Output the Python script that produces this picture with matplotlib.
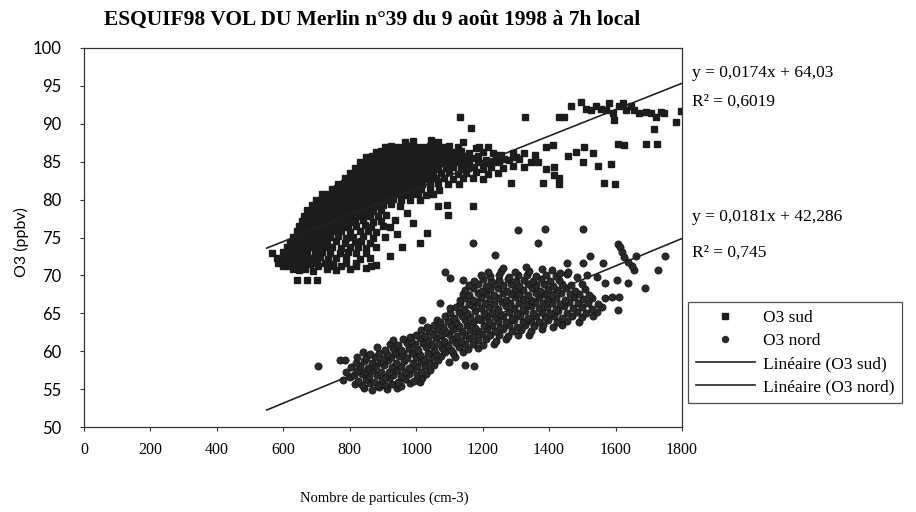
import matplotlib
matplotlib.use("Agg")
import matplotlib.pyplot as plt
from matplotlib.lines import Line2D

# O3 sud (squares), row by row
sud_x = [
    965, 990, 1045, 1065, 1140,
    905, 925, 945, 965, 985, 1000, 1020, 1040, 1060, 1080, 1100, 1125, 1190, 1215, 1391, 1411,
    880, 895, 915, 935, 955, 975, 995, 1015, 1035, 1055, 1075, 1095, 1115, 1135, 1160, 1180, 1200, 1230, 1255, 1290, 1481,
    850, 868, 886, 905, 923, 941, 960, 978, 996, 1015, 1033, 1051, 1070, 1088, 1106, 1125, 1143, 1165, 1185, 1210, 1240, 1265, 1300, 1325, 1358, 1456,
    830, 848, 866, 884, 902, 920, 938, 956, 974, 992, 1010, 1028, 1046, 1064, 1082, 1100, 1120, 1140, 1160, 1185, 1205, 1230, 1250, 1280, 1310, 1345, 1367, 1501, 1586,
    815, 833, 851, 869, 887, 905, 923, 941, 959, 977, 995, 1013, 1031, 1049, 1067, 1090, 1110, 1135, 1155, 1175, 1200, 1225, 1260, 1290, 1325, 1391, 1416, 1546,
    800, 818, 836, 854, 872, 890, 908, 926, 944, 962, 980, 998, 1016, 1034, 1052, 1075, 1100, 1125, 1150, 1180, 1215, 1245, 1416,
    785, 803, 821, 839, 857, 875, 893, 911, 929, 947, 965, 983, 1001, 1019, 1037, 1060, 1085, 1110, 1140, 1170, 1200, 1431,
    765, 783, 801, 819, 837, 855, 873, 891, 909, 927, 945, 963, 981, 999, 1017, 1040, 1065, 1095, 1130, 1286, 1381, 1431, 1566, 1599,
    745, 763, 781, 799, 817, 835, 853, 871, 889, 907, 925, 943, 961, 979, 997, 1015, 1040, 1070,
    715, 733, 751, 769, 787, 805, 823, 841, 859, 877, 895, 913, 931, 949, 967, 985, 1005, 1030, 1052,
    697, 715, 733, 751, 769, 787, 805, 823, 841, 859, 877, 895, 913, 931, 955, 980, 1010,
    685, 703, 721, 739, 757, 775, 793, 811, 829, 847, 865, 883, 901, 925, 950, 1092, 1171,
    672, 690, 708, 726, 744, 762, 780, 798, 816, 834, 852, 870, 895, 971, 1066,
    662, 680, 698, 716, 734, 752, 770, 788, 806, 824, 842, 862, 885, 910, 1096,
    655, 673, 691, 709, 727, 745, 763, 781, 799, 817, 840, 870, 895, 935,
    648, 666, 684, 702, 720, 738, 756, 774, 795, 820, 845, 865, 900, 921, 991,
    642, 660, 678, 696, 714, 732, 752, 775, 800, 830, 855, 880, 941, 1031,
    630, 648, 666, 684, 702, 720, 740, 765, 790, 810, 840, 870, 905,
    620, 638, 656, 674, 692, 710, 730, 760, 785, 815, 835, 860, 1011,
    610, 628, 646, 664, 682, 705, 725, 745, 775, 800, 825, 850, 880, 956,
    565, 600, 618, 636, 654, 672, 695, 715, 740, 770, 795, 820, 850, 920,
    580, 598, 616, 634, 652, 672, 690, 710, 735, 760, 790, 830, 860,
    585, 603, 621, 639, 657, 680, 700, 725, 750, 790, 820, 880,
    600, 614, 660, 705, 745, 775, 820, 865,
    630, 648, 666, 690, 730, 760, 800, 850,
    640, 670, 700,
    1131, 1166, 1326, 1431, 1446, 1466, 1496, 1511, 1526, 1541, 1556, 1571, 1581, 1591, 1596,
    1611, 1621, 1631, 1646, 1656, 1671, 1691, 1706, 1721, 1736, 1746, 1781, 1796, 1716,
    1606, 1626, 1691, 1726, 1506, 1531,
]
sud_y = [
    87.6, 87.7, 87.8, 87.6, 87.6,
    87.0, 87.1, 86.9, 87.0, 87.1, 86.9, 87.0, 87.1, 86.9, 87.0, 87.1, 86.9, 87.0, 86.9, 87.0, 87.2,
    86.3, 86.4, 86.2, 86.3, 86.4, 86.2, 86.3, 86.4, 86.2, 86.3, 86.4, 86.2, 86.3, 86.4, 86.1, 86.8, 86.3, 86.2, 85.9, 86.1, 86.3,
    85.6, 85.7, 85.5, 85.6, 85.7, 85.5, 85.6, 85.7, 85.5, 85.6, 85.7, 85.5, 85.6, 85.7, 85.5, 85.6, 85.7, 85.5, 85.7, 85.2, 85.9, 85.4, 85.6, 86.1, 85.9, 85.7,
    84.9, 85.0, 84.8, 84.9, 85.0, 84.8, 84.9, 85.0, 84.8, 84.9, 85.0, 84.8, 84.9, 85.0, 84.8, 84.9, 85.0, 84.8, 84.9, 85.0, 84.8, 84.9, 85.0, 85.2, 85.4, 84.9, 84.9, 85.0, 84.7,
    84.2, 84.3, 84.1, 84.2, 84.3, 84.1, 84.2, 84.3, 84.1, 84.2, 84.3, 84.1, 84.2, 84.3, 84.1, 84.2, 84.3, 84.1, 84.2, 84.3, 84.1, 84.3, 84.2, 84.4, 84.3, 84.1, 84.3, 84.4,
    83.5, 83.6, 83.4, 83.5, 83.6, 83.4, 83.5, 83.6, 83.4, 83.5, 83.6, 83.4, 83.5, 83.6, 83.4, 83.5, 83.6, 83.4, 83.5, 83.6, 83.4, 83.5, 83.2,
    82.8, 82.9, 82.7, 82.8, 82.9, 82.7, 82.8, 82.9, 82.7, 82.8, 82.9, 82.7, 82.8, 82.9, 82.7, 82.8, 82.9, 82.7, 82.8, 82.9, 82.7, 82.9,
    82.1, 82.2, 82.0, 82.1, 82.2, 82.0, 82.1, 82.2, 82.0, 82.1, 82.2, 82.0, 82.1, 82.2, 82.0, 82.1, 82.2, 82.0, 82.1, 82.2, 82.2, 82.1, 82.2, 82.1,
    81.4, 81.5, 81.3, 81.4, 81.5, 81.3, 81.4, 81.5, 81.3, 81.4, 81.5, 81.3, 81.4, 81.5, 81.3, 81.4, 81.5, 81.3,
    80.7, 80.8, 80.6, 80.7, 80.8, 80.6, 80.7, 80.8, 80.6, 80.7, 80.8, 80.6, 80.7, 80.8, 80.6, 80.7, 80.8, 80.6, 80.8,
    80.0, 80.1, 79.9, 80.0, 80.1, 79.9, 80.0, 80.1, 79.9, 80.0, 80.1, 79.9, 80.0, 80.1, 79.9, 80.0, 79.9,
    79.3, 79.4, 79.2, 79.3, 79.4, 79.2, 79.3, 79.4, 79.2, 79.3, 79.4, 79.2, 79.3, 79.4, 79.2, 79.3, 79.1,
    78.6, 78.7, 78.5, 78.6, 78.7, 78.5, 78.6, 78.7, 78.5, 78.6, 78.7, 78.5, 78.6, 78.2, 79.1,
    77.9, 78.0, 77.8, 77.9, 78.0, 77.8, 77.9, 78.0, 77.8, 77.9, 78.0, 77.8, 77.9, 78.0, 78.0,
    77.2, 77.3, 77.1, 77.2, 77.3, 77.1, 77.2, 77.3, 77.1, 77.2, 77.3, 77.1, 77.2, 77.3,
    76.5, 76.6, 76.4, 76.5, 76.6, 76.4, 76.5, 76.6, 76.4, 76.5, 76.6, 76.4, 76.5, 76.4, 76.9,
    75.8, 75.9, 75.7, 75.8, 75.9, 75.7, 75.8, 75.9, 75.7, 75.8, 75.9, 75.7, 75.5, 75.6,
    75.1, 75.2, 75.0, 75.1, 75.2, 75.0, 75.1, 75.2, 75.0, 75.1, 75.2, 75.0, 75.1,
    74.4, 74.5, 74.3, 74.4, 74.5, 74.3, 74.4, 74.5, 74.3, 74.4, 74.5, 74.3, 74.3,
    73.7, 73.8, 73.6, 73.7, 73.8, 73.6, 73.7, 73.8, 73.6, 73.7, 73.8, 73.6, 73.7, 73.8,
    73.0, 73.1, 72.9, 73.0, 73.1, 72.9, 73.0, 73.1, 72.9, 73.0, 73.1, 72.9, 73.0, 72.6,
    72.3, 72.4, 72.2, 72.3, 72.4, 72.2, 72.3, 72.4, 72.2, 72.3, 72.4, 72.2, 72.3,
    71.6, 71.7, 71.5, 71.6, 71.7, 71.5, 71.6, 71.7, 71.5, 71.6, 71.7, 71.4,
    71.2, 71.3, 71.2, 71.3, 71.2, 71.3, 71.2, 71.3,
    70.9, 70.7, 70.8, 70.6, 70.8, 70.7, 70.9, 71.0,
    69.4, 69.4, 69.4,
    90.9, 89.4, 90.9, 90.9, 90.9, 92.3, 92.9, 92.0, 91.8, 92.3, 92.0, 91.8, 92.7, 91.4, 90.5,
    92.3, 92.7, 91.8, 92.3, 91.8, 91.4, 91.6, 91.4, 90.9, 91.6, 91.4, 90.3, 91.7, 89.3,
    87.4, 87.2, 87.4, 87.4, 86.9, 86.1,
]

# O3 nord (circles), one line of the source per band row
nord_x = [
    843, 866, 889, 912, 941, 905,
    815, 838, 861, 884, 928, 953, 980, 1011,
    781, 801, 826, 849, 873, 897, 919, 944, 967, 992, 1018,
    812, 836, 858, 881, 906, 930, 955, 978, 1003, 1030,
    790, 822, 846, 870, 893, 918, 942, 966, 990, 1015, 1042,
    705, 771, 786, 805, 830, 856, 880, 903, 928, 953, 977, 1002, 1026, 1055,
    818, 842, 867, 891, 915, 940, 964, 989, 1013, 1038, 1066, 1147, 1174, 1100,
    821, 850, 875, 899, 924, 949, 973, 998, 1022, 1047, 1076, 1118,
    840, 862, 888, 912, 937, 961, 986, 1010, 1035, 1060, 1087, 1112, 1140,
    881, 905, 930, 955, 979, 1004, 1028, 1053, 1079, 1104, 1129, 1155, 1186,
    920, 946, 972, 997, 1021, 1046, 1070, 1095, 1120, 1146, 1171, 1200, 1233,
    931, 960, 985, 1010, 1035, 1059, 1084, 1109, 1134, 1160, 1185, 1211, 1240, 1270,
    982, 1000, 1025, 1050, 1074, 1098, 1123, 1148, 1173, 1198, 1223, 1249, 1276, 1305, 1340,
    1013, 1039, 1063, 1088, 1112, 1137, 1162, 1187, 1212, 1237, 1262, 1288, 1314, 1345, 1378,
    1032, 1055, 1080, 1104, 1129, 1154, 1178, 1203, 1228, 1253, 1278, 1303, 1328, 1354, 1382, 1412, 1440,
    1016, 1062, 1072, 1096, 1121, 1146, 1170, 1195, 1220, 1245, 1270, 1295, 1320, 1346, 1371, 1397, 1424, 1455, 1490,
    1088, 1113, 1138, 1162, 1187, 1212, 1237, 1262, 1287, 1312, 1337, 1362, 1388, 1414, 1440, 1468, 1498, 1533,
    1103, 1128, 1153, 1178, 1203, 1228, 1253, 1278, 1303, 1328, 1353, 1378, 1403, 1428, 1455, 1483, 1512, 1545,
    1103, 1120, 1145, 1170, 1195, 1220, 1245, 1270, 1295, 1320, 1345, 1370, 1395, 1420, 1446, 1472, 1500, 1530, 1560, 1608,
    1072, 1133, 1158, 1183, 1208, 1233, 1258, 1283, 1308, 1333, 1358, 1383, 1408, 1433, 1460, 1488, 1518, 1548,
    1133, 1146, 1171, 1196, 1221, 1246, 1271, 1296, 1321, 1346, 1371, 1396, 1421, 1447, 1474, 1502, 1530, 1568, 1588, 1611,
    1140, 1160, 1185, 1210, 1235, 1260, 1285, 1310, 1335, 1360, 1385, 1410, 1436, 1462, 1490, 1520,
    1148, 1172, 1197, 1222, 1247, 1272, 1297, 1322, 1347, 1372, 1397, 1423, 1450, 1478, 1508, 1689,
    1160, 1185, 1210, 1235, 1260, 1285, 1310, 1335, 1360, 1386, 1412, 1438, 1466, 1500, 1568, 1638,
    1102, 1142, 1175, 1200, 1225, 1250, 1275, 1300, 1325, 1350, 1376, 1402, 1430, 1483, 1543, 1603,
    1195, 1222, 1250, 1278, 1306, 1334, 1362, 1392, 1420, 1455, 1513,
    1087, 1215, 1255, 1298, 1340, 1408, 1433, 1458, 1655, 1729,
    1262, 1330, 1380, 1648,
    1307, 1388, 1503, 1170, 1368, 1237, 1608, 1613, 1618, 1625, 1638, 1663, 1749, 1563, 1523, 1503, 1455,
]
nord_y = [
    55.2, 54.9, 55.3, 55.0, 55.1, 55.6,
    55.7, 55.5, 55.8, 55.6, 55.7, 55.4, 55.8, 55.9,
    56.2, 56.6, 56.1, 56.3, 56.0, 56.2, 56.4, 56.0, 56.3, 56.1, 56.4,
    56.8, 57.0, 56.7, 56.9, 56.6, 56.9, 56.7, 57.0, 56.8, 57.0,
    57.3, 57.4, 57.2, 57.5, 57.3, 57.2, 57.5, 57.3, 57.6, 57.3, 57.5,
    58.0, 58.8, 58.9, 57.9, 58.1, 57.8, 58.0, 58.2, 57.9, 58.1, 57.8, 58.1, 58.0, 58.2,
    58.5, 58.7, 58.4, 58.6, 58.8, 58.5, 58.7, 58.4, 58.7, 58.6, 58.9, 58.2, 58.0, 58.6,
    59.3, 59.1, 59.3, 59.0, 59.2, 59.4, 59.1, 59.3, 59.0, 59.2, 59.4, 59.2,
    59.9, 59.6, 59.8, 59.6, 59.9, 59.7, 59.8, 59.5, 59.8, 59.6, 59.9, 59.7, 59.9,
    60.5, 60.2, 60.4, 60.1, 60.4, 60.2, 60.5, 60.2, 60.4, 60.2, 60.5, 60.3, 60.4,
    61.0, 60.8, 61.1, 60.9, 61.1, 60.8, 61.0, 60.8, 61.1, 60.9, 61.0, 60.8, 61.0,
    61.5, 61.6, 61.4, 61.7, 61.5, 61.7, 61.4, 61.6, 61.4, 61.7, 61.5, 61.6, 61.4, 61.6,
    61.9, 62.2, 62.0, 62.3, 62.1, 62.3, 62.0, 62.2, 62.0, 62.3, 62.1, 62.2, 62.0, 62.2, 62.1,
    62.8, 62.6, 62.9, 62.7, 62.9, 62.6, 62.8, 62.6, 62.9, 62.7, 62.9, 62.6, 62.8, 62.7, 62.9,
    63.2, 63.4, 63.2, 63.5, 63.3, 63.4, 63.1, 63.3, 63.5, 63.2, 63.4, 63.2, 63.5, 63.3, 63.4, 63.2, 63.4,
    64.1, 64.1, 63.8, 64.0, 63.8, 64.1, 63.9, 64.1, 63.8, 64.0, 63.8, 64.1, 63.9, 64.0, 63.8, 64.1, 63.9, 64.0, 63.9,
    64.6, 64.4, 64.7, 64.5, 64.4, 64.7, 64.5, 64.7, 64.4, 64.6, 64.4, 64.7, 64.5, 64.6, 64.4, 64.6, 64.5, 64.6,
    65.0, 65.2, 65.0, 65.3, 65.1, 65.2, 64.9, 65.2, 65.0, 65.3, 65.1, 65.2, 65.0, 65.3, 65.1, 65.2, 65.0, 65.2,
    65.7, 65.8, 65.6, 65.9, 65.7, 65.8, 65.6, 65.9, 65.7, 65.6, 65.9, 65.7, 65.8, 65.6, 65.9, 65.7, 65.8, 65.6, 65.8, 65.4,
    66.3, 66.4, 66.2, 66.5, 66.3, 66.2, 66.5, 66.3, 66.4, 66.2, 66.5, 66.3, 66.4, 66.2, 66.5, 66.3, 66.4, 66.2,
    66.8, 67.0, 66.8, 67.1, 66.9, 67.0, 66.8, 67.1, 66.9, 66.8, 67.1, 66.9, 67.0, 66.8, 67.1, 66.9, 67.0, 67.0, 67.1, 67.1,
    67.6, 67.4, 67.7, 67.5, 67.4, 67.7, 67.5, 67.6, 67.4, 67.7, 67.5, 67.4, 67.7, 67.5, 67.6, 67.4,
    68.1, 68.3, 68.0, 68.2, 68.3, 68.0, 68.2, 68.1, 68.3, 68.0, 68.2, 68.1, 68.3, 68.0, 68.2, 68.3,
    68.7, 68.9, 68.6, 68.8, 68.7, 68.9, 68.6, 68.8, 68.7, 68.9, 68.6, 68.8, 68.7, 68.9, 69.0, 69.0,
    69.6, 69.4, 69.3, 69.5, 69.2, 69.4, 69.5, 69.2, 69.4, 69.3, 69.5, 69.2, 69.4, 69.8, 69.8, 69.4,
    70.0, 69.9, 70.1, 69.8, 70.0, 70.1, 69.9, 70.0, 69.9, 70.2, 70.1,
    70.5, 70.5, 70.6, 70.4, 70.6, 70.7, 70.3, 70.5, 70.7, 70.7,
    71.0, 71.1, 70.9, 71.2,
    76.0, 76.1, 76.1, 74.3, 74.3, 72.7, 74.2, 73.7, 73.1, 72.4, 71.8, 72.5, 72.5, 71.7, 72.5, 71.6, 71.7,
]

# Linear fits as printed on the chart
sud_slope, sud_intercept = 0.0174, 64.03
nord_slope, nord_intercept = 0.0181, 42.286
fit_x = [550, 1800]

x_ticks = [0, 200, 400, 600, 800, 1000, 1200, 1400, 1600, 1800]
y_ticks = [50, 55, 60, 65, 70, 75, 80, 85, 90, 95, 100]

serif = "Liberation Serif"

fig = plt.figure(figsize=(9.16, 5.12), dpi=100)
ax = fig.add_axes([84 / 916, 1 - 427 / 512, 598 / 916, 379 / 512])

ink = "#1c1c1c"
ax.plot(sud_x, sud_y, ls="none", marker="s", ms=4.3, color=ink, mec=ink)
ax.plot(nord_x, nord_y, ls="none", marker="o", ms=5.2, color="#2a2a2a", mec="#111111", mew=0.5)

sud_fit = [sud_slope * v + sud_intercept for v in fit_x]
nord_fit = [nord_slope * v + nord_intercept for v in fit_x]
ax.plot(fit_x, sud_fit, color="#222222", lw=1.2)
ax.plot(fit_x, nord_fit, color="#222222", lw=1.2)

ax.set_xlim(0, 1800)
ax.set_ylim(50, 100)
ax.set_xticks(x_ticks)
ax.set_yticks(y_ticks)
ax.tick_params(direction="out", length=3, width=0.8, color="#333333")
ax.tick_params(axis="x", labelsize=11.5, pad=8)
ax.tick_params(axis="y", labelsize=12, pad=13)
for lab in ax.get_xticklabels():
    lab.set_fontfamily(serif)
for lab in ax.get_yticklabels():
    lab.set_fontfamily("Lato")
for s in ax.spines.values():
    s.set_linewidth(0.9)
    s.set_color("#333333")

ax.set_xlabel("Nombre de particules (cm-3)", fontsize=10.5, family=serif)
ax.xaxis.set_label_coords(0.503, -0.17)
fig.text(21 / 916, 1 - 242 / 512, "O3 (ppbv)", rotation=90, ha="center", va="center",
         fontsize=11.5, family="Lato")

fig.text(372 / 916, 1 - 20 / 512,
         "ESQUIF98 VOL DU Merlin n°39 du 9 août 1998 à 7h local",
         ha="center", va="center", fontsize=15.5, fontweight="bold", family=serif)

# equations of the trend lines
eq_kw = dict(ha="left", va="center", fontsize=12.5, family=serif)
fig.text(692 / 916, 1 - 73 / 512, "y = 0,0174x + 64,03", **eq_kw)
fig.text(692 / 916, 1 - 102 / 512, "R² = 0,6019", **eq_kw)
fig.text(692 / 916, 1 - 217 / 512, "y = 0,0181x + 42,286", **eq_kw)
fig.text(692 / 916, 1 - 253 / 512, "R² = 0,745", **eq_kw)

handles = [
    Line2D([], [], ls="none", marker="s", ms=4.3, color=ink),
    Line2D([], [], ls="none", marker="o", ms=4.3, color="#2a2a2a"),
    Line2D([], [], color="#222222", lw=1.2),
    Line2D([], [], color="#222222", lw=1.2),
]
labels = ["O3 sud", "O3 nord", "Linéaire (O3 sud)", "Linéaire (O3 nord)"]
leg = fig.legend(handles, labels, loc="upper left", bbox_to_anchor=(688 / 916, 1 - 302 / 512),
                 prop={"family": serif, "size": 12.5}, frameon=True, fancybox=False,
                 edgecolor="#222222", handlelength=3.4, handletextpad=0.45,
                 labelspacing=0.4, borderpad=0.45, borderaxespad=0)
leg.get_frame().set_linewidth(0.9)

fig.savefig("out.png", dpi=100, facecolor="white")
